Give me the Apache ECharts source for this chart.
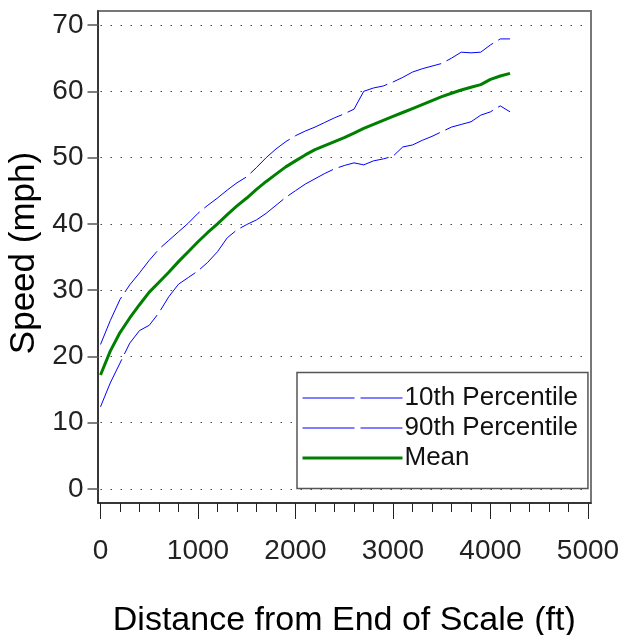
<!DOCTYPE html>
<html>
<head>
<meta charset="utf-8">
<title>Speed vs Distance from End of Scale</title>
<script src="https://cdn.jsdelivr.net/npm/echarts@6/dist/echarts.min.js"></script>
<style>
  html, body { margin: 0; padding: 0; background: #fff; }
  #chart { width: 621px; height: 635px; }
</style>
</head>
<body>
<div id="chart"></div>
<script>
// Distance from end of scale (ft)
const distanceFt = [
  0, 100, 200, 300, 400, 500, 600, 700, 800, 900,
  1000, 1100, 1200, 1300, 1400, 1500, 1600, 1700, 1800, 1900,
  2000, 2100, 2200, 2300, 2400, 2500, 2600, 2700, 2800, 2900,
  3000, 3100, 3200, 3300, 3400, 3500, 3600, 3700, 3800, 3900,
  4000, 4100, 4200
];

// 10th percentile speed (mph)
const p10Speed = [
  12.4, 16.0, 19.0, 22.0, 23.9, 24.7, 26.6, 29.0, 30.9, 31.9,
  32.9, 34.2, 35.8, 37.9, 39.1, 39.9, 40.6, 41.6, 42.8, 44.0,
  45.0, 46.0, 46.8, 47.6, 48.3, 48.8, 49.2, 48.9, 49.5, 49.8,
  50.2, 51.6, 51.9, 52.6, 53.2, 53.9, 54.6, 55.0, 55.4, 56.4,
  56.9, 57.8, 56.9
];

// 90th percentile speed (mph)
const p90Speed = [
  21.8, 25.4, 28.6, 30.8, 32.6, 34.5, 36.2, 37.5, 38.8, 40.1,
  41.6, 42.8, 43.9, 45.1, 46.2, 47.1, 48.5, 50.0, 51.3, 52.4,
  53.3, 54.0, 54.6, 55.3, 56.0, 56.6, 57.3, 60.0, 60.5, 60.8,
  61.4, 62.1, 62.9, 63.4, 63.8, 64.2, 65.0, 65.9, 65.8, 65.9,
  67.0, 67.9, 67.9
];

// Mean speed (mph)
const meanSpeed = [
  17.2, 20.8, 23.6, 25.8, 27.8, 29.7, 31.2, 32.7, 34.3, 35.8,
  37.3, 38.7, 40.0, 41.4, 42.7, 43.9, 45.2, 46.4, 47.5, 48.6,
  49.5, 50.4, 51.2, 51.8, 52.4, 53.0, 53.7, 54.4, 55.0, 55.6,
  56.2, 56.8, 57.4, 58.0, 58.6, 59.2, 59.7, 60.2, 60.6, 61.0,
  61.8, 62.3, 62.7
];

const seriesNames = ['10th Percentile', '90th Percentile', 'Mean'];

const FONT = '"Liberation Sans", Arial, sans-serif';

function pairs(values) {
  return distanceFt.map((d, i) => [d, values[i]]);
}

const plainNumber = (v) => String(v);

// percentile curves: thin blue long-dash
function dashedBlue() {
  return { color: '#0000ff', width: 1, type: [52, 6] };
}

const chart = echarts.init(document.getElementById('chart'), null, { renderer: 'canvas' });

chart.setOption({
  animation: false,
  backgroundColor: '#ffffff',
  textStyle: { fontFamily: FONT },
  grid: [
    // data area
    { left: 100.5, right: 33, top: 25, bottom: 146, outerBoundsMode: 'none', containLabel: false },
    // surrounding frame
    { left: 98, right: 30, top: 11, bottom: 132, show: true, outerBoundsMode: 'none', containLabel: false,
      borderColor: '#777', borderWidth: 2, backgroundColor: 'transparent' }
  ],
  xAxis: [
    {
      type: 'value', gridIndex: 0, min: 0, max: 5000, interval: 1000,
      offset: 14,
      axisLine: { show: false, onZero: false },
      axisTick: { show: true, length: 16, lineStyle: { color: '#222', width: 1 } },
      minorTick: { show: true, splitNumber: 5, length: 9, lineStyle: { color: '#222', width: 1 } },
      axisLabel: { fontSize: 28, color: '#222', margin: 34, fontFamily: FONT, formatter: plainNumber },
      splitLine: { show: false },
      name: 'Distance from End of Scale (ft)',
      nameLocation: 'middle', nameGap: 101,
      nameTextStyle: { fontSize: 34, color: '#000', fontFamily: FONT }
    },
    {
      type: 'value', gridIndex: 1, min: 0, max: 1,
      axisLine: { show: true, onZero: false, lineStyle: { color: '#222', width: 1.5 } },
      axisTick: { show: false }, axisLabel: { show: false }, splitLine: { show: false }
    }
  ],
  yAxis: [
    {
      type: 'value', gridIndex: 0, min: 0, max: 70, interval: 10,
      offset: 2,
      axisLine: { show: false, onZero: false },
      axisTick: { show: true, length: 11, lineStyle: { color: '#555', width: 1.5 } },
      axisLabel: { fontSize: 28, color: '#222', margin: 15, fontFamily: FONT, formatter: plainNumber },
      splitLine: { show: true, lineStyle: { color: '#444', width: 1, type: [1.5, 8.5] } },
      name: 'Speed (mph)',
      nameLocation: 'middle', nameGap: 54,
      nameTextStyle: { fontSize: 35, color: '#000', fontFamily: FONT, padding: [0, 0, 0, 8] }
    },
    {
      type: 'value', gridIndex: 1, min: 0, max: 1,
      axisLine: { show: true, onZero: false, lineStyle: { color: '#222', width: 1.5 } },
      axisTick: { show: false }, axisLabel: { show: false }, splitLine: { show: false }
    }
  ],
  legend: {
    data: [
      { name: seriesNames[0], lineStyle: dashedBlue() },
      { name: seriesNames[1], lineStyle: dashedBlue() },
      { name: seriesNames[2], lineStyle: { color: '#008000', width: 3, type: 'solid' } }
    ],
    orient: 'vertical',
    left: 297, top: 372.5,
    padding: [12.5, 10, 17.5, 4],
    borderColor: '#555', borderWidth: 1.5,
    backgroundColor: '#ffffff',
    itemWidth: 100, itemHeight: 14, itemGap: 4,
    itemStyle: { opacity: 0, borderWidth: 0 },
    textStyle: { fontSize: 26, color: '#111', lineHeight: 26, fontFamily: FONT, padding: [0, 0, 0, -3] }
  },
  series: [
    {
      name: seriesNames[0], type: 'line', xAxisIndex: 0, yAxisIndex: 0,
      data: pairs(p10Speed), symbol: 'none', lineStyle: dashedBlue(),
      itemStyle: { color: '#0000ff' }
    },
    {
      name: seriesNames[1], type: 'line', xAxisIndex: 0, yAxisIndex: 0,
      data: pairs(p90Speed), symbol: 'none', lineStyle: dashedBlue(),
      itemStyle: { color: '#0000ff' }
    },
    {
      name: seriesNames[2], type: 'line', xAxisIndex: 0, yAxisIndex: 0,
      data: pairs(meanSpeed), symbol: 'none',
      lineStyle: { color: '#008000', width: 3 },
      itemStyle: { color: '#008000' }, z: 3
    }
  ]
});
</script>
</body>
</html>
